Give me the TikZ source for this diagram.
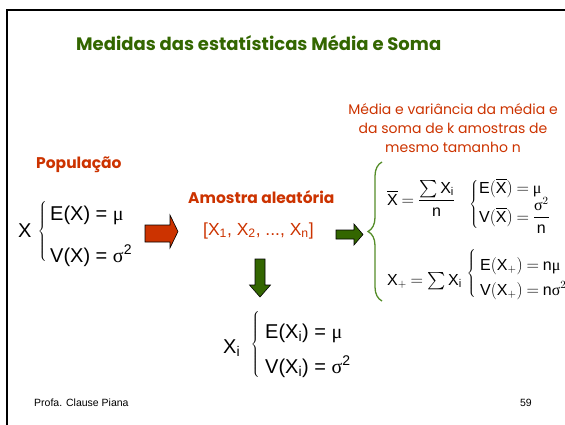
\documentclass[tikz,border=0pt]{standalone}
\usepackage{amsmath}
\usepackage{fontspec}
\setmainfont{Liberation Sans}
\newfontfamily\comic{Poppins}
\newfontfamily\grk{Liberation Serif}
\usetikzlibrary{decorations.pathreplacing}

\definecolor{slidegreen}{RGB}{51,102,0}
\definecolor{slidered}{RGB}{204,51,0}
\definecolor{bracegreen}{RGB}{84,140,40}

\newcommand\gmu{\text{\grk μ}}
\newcommand\gsig{\text{\grk σ}}
\newcommand\bigbr[1]{$\left\{\vcenter{\hbox{\rule{0pt}{#1}}}\right.$}

\begin{document}
\begin{tikzpicture}[
  x=1pt, y=-1pt,
  ttl/.style={font=\comic\bfseries\fontsize{18}{21}\selectfont, text=slidegreen, inner sep=0pt},
  hd/.style={font=\comic\bfseries\fontsize{15.5}{18}\selectfont, text=slidered, inner sep=0pt},
  note/.style={font=\comic\fontsize{14}{19}\selectfont, text=slidered, align=center, inner sep=0pt},
  fml/.style={font=\fontsize{20}{24}\selectfont, inner sep=0pt},
  sfml/.style={font=\fontsize{16}{19}\selectfont, inner sep=0pt, execute at begin node={\thickmuskip=4mu}},
  br/.style={font=\fontsize{10}{12}\selectfont, inner sep=0pt},
  foot/.style={font=\fontsize{10.5}{12}\selectfont, inner sep=0pt},
  blk/.style={draw=black, line width=0.6pt},
]
\useasboundingbox (0,0) rectangle (565,424);

% ---- slide frame ----
\draw[line width=2pt] (575,10) -- (7,10) -- (7,434);

% ---- title and note ----
\node[ttl, anchor=base west] (title) at (76,50) {Medidas das estatísticas Média e Soma};
\node[note] (note) at (453,128) {Média e variância da média e\\da soma de k amostras de\\mesmo tamanho n};

% ---- population ----
\node[hd, anchor=base west] (pop) at (36,168) {População};
\node[fml, anchor=base west] (popX) at (18,237) {X};
\node[br] (popbr) at (43,231.5) {\bigbr{64pt}};
\node[fml, anchor=base west] (popE) at (50,220) {E(X) = {\grk μ}};
\node[fml, anchor=base west] (popV) at (50,262) {V(X) = {\grk σ}\textsuperscript{2}};

% ---- random sample ----
\node[hd, anchor=base west] (amostra) at (188,203) {Amostra aleatória};
\node[fml, font=\fontsize{17.5}{20}\selectfont, text=slidered, anchor=base west] (sample) at (203,235)
  {[X\textsubscript{1}, X\textsubscript{2}, ..., X\textsubscript{n}]};

% ---- one observation ----
\node[fml, anchor=base west] (smpX) at (223,353) {X\textsubscript{i}};
\node[br] (smpbr) at (256,344.5) {\bigbr{68pt}};
\node[fml, anchor=base west] (smpE) at (265,338) {E(X\textsubscript{i}) = {\grk μ}};
\node[fml, anchor=base west] (smpV) at (265,373) {V(X\textsubscript{i}) = {\grk σ}\textsuperscript{2}};

% ---- mean and sum of the samples ----
\node[sfml, anchor=base west] (mean) at (387,205)
  {$\overline{\mathrm{X}} = \dfrac{\sum \mathrm{X}_{\mathrm{i}}}{\mathrm{n}}$};
\node[br] (meanbr) at (474.5,204.5) {\bigbr{52pt}};
\node[sfml, anchor=base west] (meanE) at (479,193) {$\mathrm{E}(\overline{\mathrm{X}}) = \gmu$};
\node[sfml, anchor=base west] (meanV) at (479,222) {$\mathrm{V}(\overline{\mathrm{X}}) = \dfrac{\gsig^2}{\mathrm{n}}$};

\node[sfml, anchor=base west] (sum) at (387,285) {$\mathrm{X}_{+} = \sum \mathrm{X}_{\mathrm{i}}$};
\node[br] (sumbr) at (472,273.5) {\bigbr{52pt}};
\node[sfml, anchor=base west] (sumE) at (480,270) {$\mathrm{E}(\mathrm{X}_{+}) = \mathrm{n}\gmu$};
\node[sfml, anchor=base west] (sumV) at (480,295) {$\mathrm{V}(\mathrm{X}_{+}) = \mathrm{n}\gsig^2$};

\coordinate (gbtop) at (382,162);
\coordinate (gbbot) at (382,301);
\draw[bracegreen, line width=1.3pt, decorate, decoration={brace, amplitude=14pt}] (gbbot) -- (gbtop);

% ---- block arrows ----
\filldraw[blk, fill=slidered] (145,225) -- (170,225) -- (170,215) -- (178,231.5)
  -- (170,248) -- (170,242) -- (145,242) -- cycle;
\filldraw[blk, fill=slidegreen] (255,259) -- (265,259) -- (265,285) -- (270.5,285)
  -- (260,297) -- (249.5,285) -- (255,285) -- cycle;
\filldraw[blk, fill=slidegreen] (336,230) -- (354,230) -- (354,224) -- (363,234.5)
  -- (354,245) -- (354,239) -- (336,239) -- cycle;

% ---- footer ----
\node[foot, anchor=base west] (author) at (34,406) {Profa. Clause Piana};
\node[foot, anchor=base east] (page) at (532,406) {59};
\end{tikzpicture}
\end{document}
